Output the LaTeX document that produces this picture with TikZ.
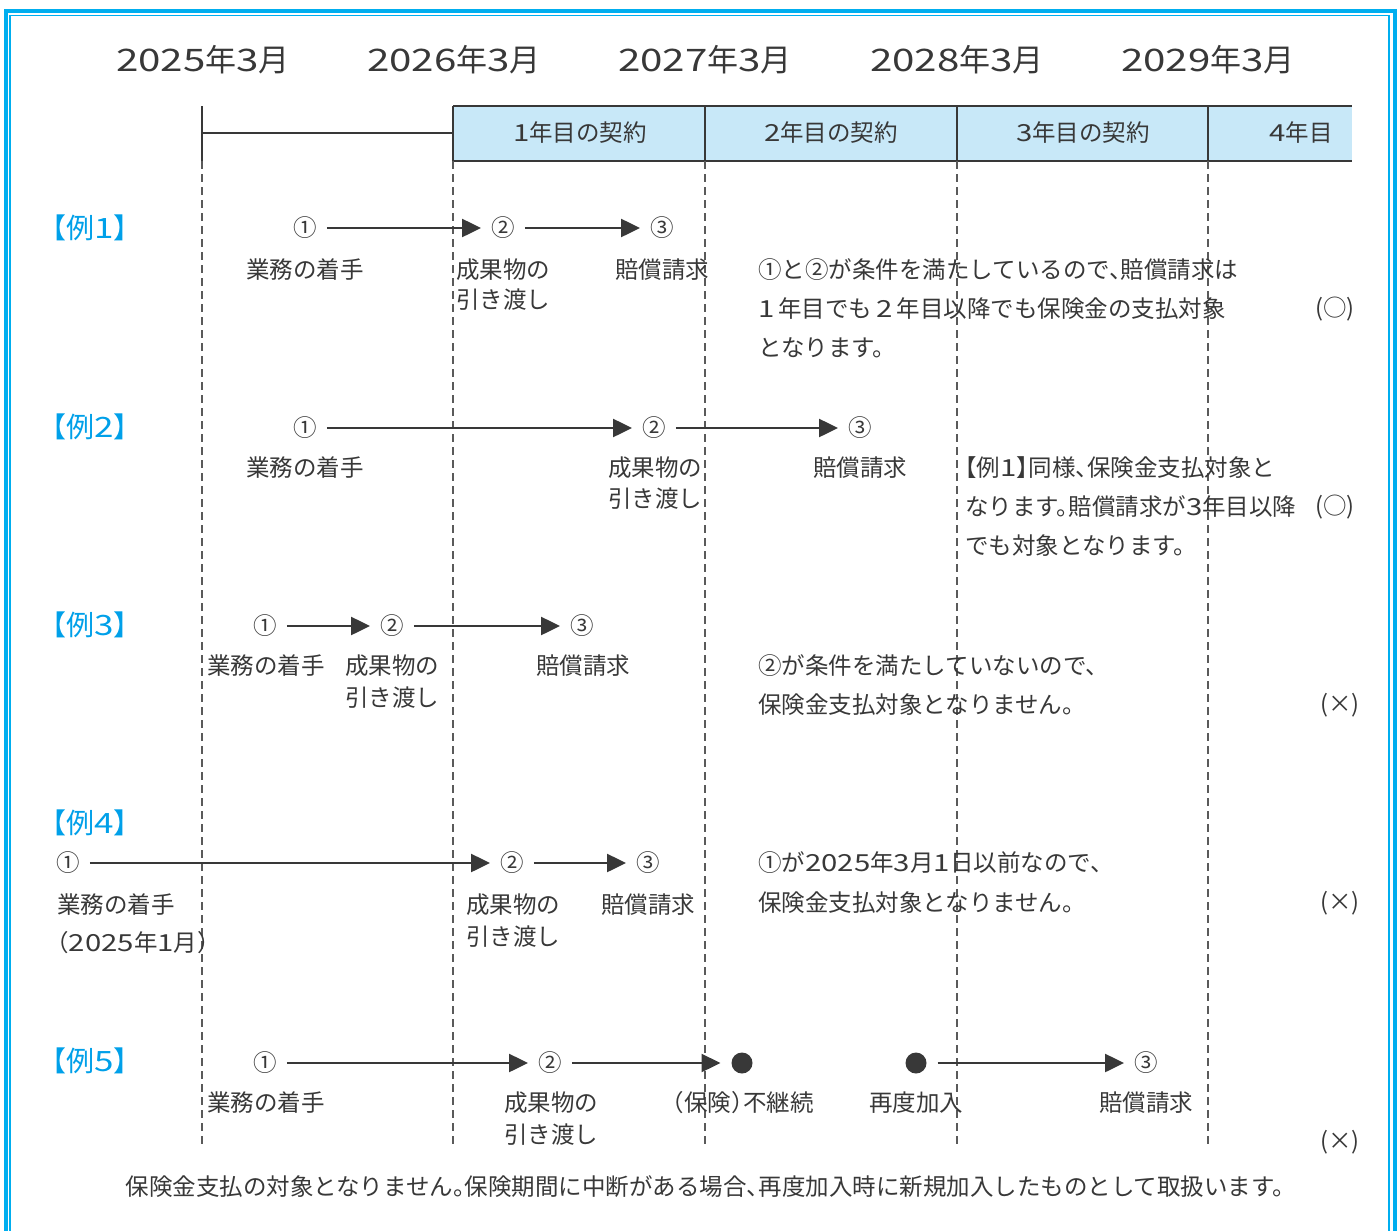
\documentclass[tikz,border=0pt]{standalone}
\usepackage{fontspec}
\setmainfont{Noto Sans CJK JP}[RawFeature=+halt]
\usetikzlibrary{arrows.meta}
\definecolor{framec}{HTML}{00AEEF}
\definecolor{labc}{HTML}{00A0E9}
\definecolor{ink}{HTML}{383838}
\definecolor{hdrc}{HTML}{C8E8F8}
\definecolor{dashc}{HTML}{5A5A5A}
\newcommand{\dg}[1]{\scalebox{1.25}[1]{#1}}
\newcommand{\ydg}[1]{\scalebox{1.3}[1]{#1}}
\begin{document}
\begin{tikzpicture}[x=1pt,y=-1pt,
  txt/.style={font=\fontsize{23.5}{28}\selectfont, text=ink, inner sep=0pt},
  ltxt/.style={txt, anchor=west},
  year/.style={font=\fontsize{31}{36}\selectfont, text=ink, inner sep=0pt},
  exlab/.style={font=\fontsize{28}{32}\selectfont, text=labc, inner sep=0pt},
  cn/.style={txt, inner xsep=10pt, inner ysep=0pt},
  dot/.style={circle, fill=ink, minimum size=21pt, inner sep=0pt, outer sep=11pt},
  arr/.style={draw=ink, line width=2.3pt, -{Triangle[length=19pt,width=18pt]}},
  grid/.style={draw=dashc, line width=1.3pt, dash pattern=on 8pt off 5pt},
  rule/.style={draw=ink, line width=1.6pt}]
\useasboundingbox (0,0) rectangle (1397,1231);
% frame
\draw[framec, line width=4pt] (5.5,1260) -- (5.5,11) -- (1394.5,11) -- (1394.5,1260);
\draw[framec, line width=1.5pt] (10,1260) -- (10,15.5) -- (1389,15.5) -- (1389,1260);
% years
\node[year] (y25) at (203,60) {\ydg{2025}年\ydg{3}月};
\node[year] (y26) at (454,60) {\ydg{2026}年\ydg{3}月};
\node[year] (y27) at (705,60) {\ydg{2027}年\ydg{3}月};
\node[year] (y28) at (957,60) {\ydg{2028}年\ydg{3}月};
\node[year] (y29) at (1208,60) {\ydg{2029}年\ydg{3}月};
% header
\fill[hdrc] (453,106) rectangle (1352,161);
\draw[rule] (453,106) -- (1352,106);
\draw[rule] (453,161) -- (1352,161);
\foreach \x in {453,705,957,1208} \draw[rule] (\x,106) -- (\x,161);
\draw[rule] (202,106) -- (202,161);
\draw[rule] (202,133) -- (453,133);
\node[txt] (c1) at (580,133) {\dg{1}年目の契約};
\node[txt] (c2) at (831,133) {\dg{2}年目の契約};
\node[txt] (c3) at (1083,133) {\dg{3}年目の契約};
\node[txt] (c4) at (1301,133) {\dg{4}年目};
% dashed grid
\foreach \x/\n in {202/0,453/1,705/2,957/3,1208/4}{
  \coordinate (t\n) at (\x,161);
  \coordinate (b\n) at (\x,1148);
  \draw[grid] (t\n) -- (b\n);
}
% ---- Example 1
\node[exlab] (l1) at (90,228) {【例\dg{1}】};
\node[cn] (e1a) at (305,228) {①};
\node[cn] (e1b) at (503,228) {②};
\node[cn] (e1c) at (662,228) {③};
\draw[arr] (e1a) -- (e1b);
\draw[arr] (e1b) -- (e1c);
\node[txt] (e1la) at (305,270) {業務の着手};
\node[txt] (e1lb1) at (503,270) {成果物の};
\node[txt] (e1lb2) at (503,300) {引き渡し};
\node[txt] (e1lc) at (662,270) {賠償請求};
\node[ltxt] (e1t1) at (758,270) {①と②が条件を満たしているので、賠償請求は};
\node[ltxt] (e1t2) at (758,309) {\dg{1}\,年目でも\,\dg{2}\,年目以降でも保険金の支払対象};
\node[ltxt] (e1t3) at (758,348) {となります。};
\node[txt] (e1m) at (1335,309) {(○)};
% ---- Example 2
\node[exlab] (l2) at (90,427) {【例\dg{2}】};
\node[cn] (e2a) at (305,428) {①};
\node[cn] (e2b) at (654,428) {②};
\node[cn] (e2c) at (860,428) {③};
\draw[arr] (e2a) -- (e2b);
\draw[arr] (e2b) -- (e2c);
\node[txt] (e2la) at (305,468) {業務の着手};
\node[txt] (e2lb1) at (655,468) {成果物の};
\node[txt] (e2lb2) at (655,499) {引き渡し};
\node[txt] (e2lc) at (860,468) {賠償請求};
\node[ltxt] (e2t1) at (965,468) {【例\dg{1}】同様、保険金支払対象と};
\node[ltxt] (e2t2) at (965,507) {なります。賠償請求が\dg{3}年目以降};
\node[ltxt] (e2t3) at (965,546) {でも対象となります。};
\node[txt] (e2m) at (1335,507) {(○)};
% ---- Example 3
\node[exlab] (l3) at (90,625) {【例\dg{3}】};
\node[cn] (e3a) at (265,626) {①};
\node[cn] (e3b) at (392,626) {②};
\node[cn] (e3c) at (582,626) {③};
\draw[arr] (e3a) -- (e3b);
\draw[arr] (e3b) -- (e3c);
\node[txt] (e3la) at (266,666) {業務の着手};
\node[txt] (e3lb1) at (392,666) {成果物の};
\node[txt] (e3lb2) at (392,698) {引き渡し};
\node[txt] (e3lc) at (583,666) {賠償請求};
\node[ltxt] (e3t1) at (758,666) {②が条件を満たしていないので、};
\node[ltxt] (e3t2) at (758,705) {保険金支払対象となりません。};
\node[txt] (e3m) at (1340,705) {(×)};
% ---- Example 4
\node[exlab] (l4) at (90,823) {【例\dg{4}】};
\node[cn] (e4a) at (68,863) {①};
\node[cn] (e4b) at (512,863) {②};
\node[cn] (e4c) at (648,863) {③};
\draw[arr] (e4a) -- (e4b);
\draw[arr] (e4b) -- (e4c);
\node[ltxt] (e4la1) at (57,905) {業務の着手};
\node[ltxt] (e4la2) at (57,943) {（\dg{2025}年\dg{1}月）};
\node[txt] (e4lb1) at (513,905) {成果物の};
\node[txt] (e4lb2) at (513,937) {引き渡し};
\node[txt] (e4lc) at (648,905) {賠償請求};
\node[ltxt] (e4t1) at (758,863) {①が\dg{2025}年\dg{3}月\dg{1}日以前なので、};
\node[ltxt] (e4t2) at (758,903) {保険金支払対象となりません。};
\node[txt] (e4m) at (1340,903) {(×)};
% ---- Example 5
\node[exlab] (l5) at (90,1061) {【例\dg{5}】};
\node[cn] (e5a) at (265,1063) {①};
\node[cn] (e5b) at (550,1063) {②};
\node[dot] (e5d1) at (742,1063) {};
\node[dot] (e5d2) at (916,1063) {};
\node[cn] (e5c) at (1146,1063) {③};
\draw[arr] (e5a) -- (e5b);
\draw[arr] (e5b) -- (e5d1);
\draw[arr] (e5d2) -- (e5c);
\node[txt] (e5la) at (266,1103) {業務の着手};
\node[txt] (e5lb1) at (551,1103) {成果物の};
\node[txt] (e5lb2) at (551,1135) {引き渡し};
\node[txt] (e5ld1) at (743,1103) {（保険）不継続};
\node[txt] (e5ld2) at (916,1103) {再度加入};
\node[txt] (e5lc) at (1146,1103) {賠償請求};
\node[txt] (e5m) at (1340,1142) {(×)};
% bottom note
\node[txt] (note) at (705,1187) {保険金支払の対象となりません。保険期間に中断がある場合、再度加入時に新規加入したものとして取扱います。};
\end{tikzpicture}
\end{document}
